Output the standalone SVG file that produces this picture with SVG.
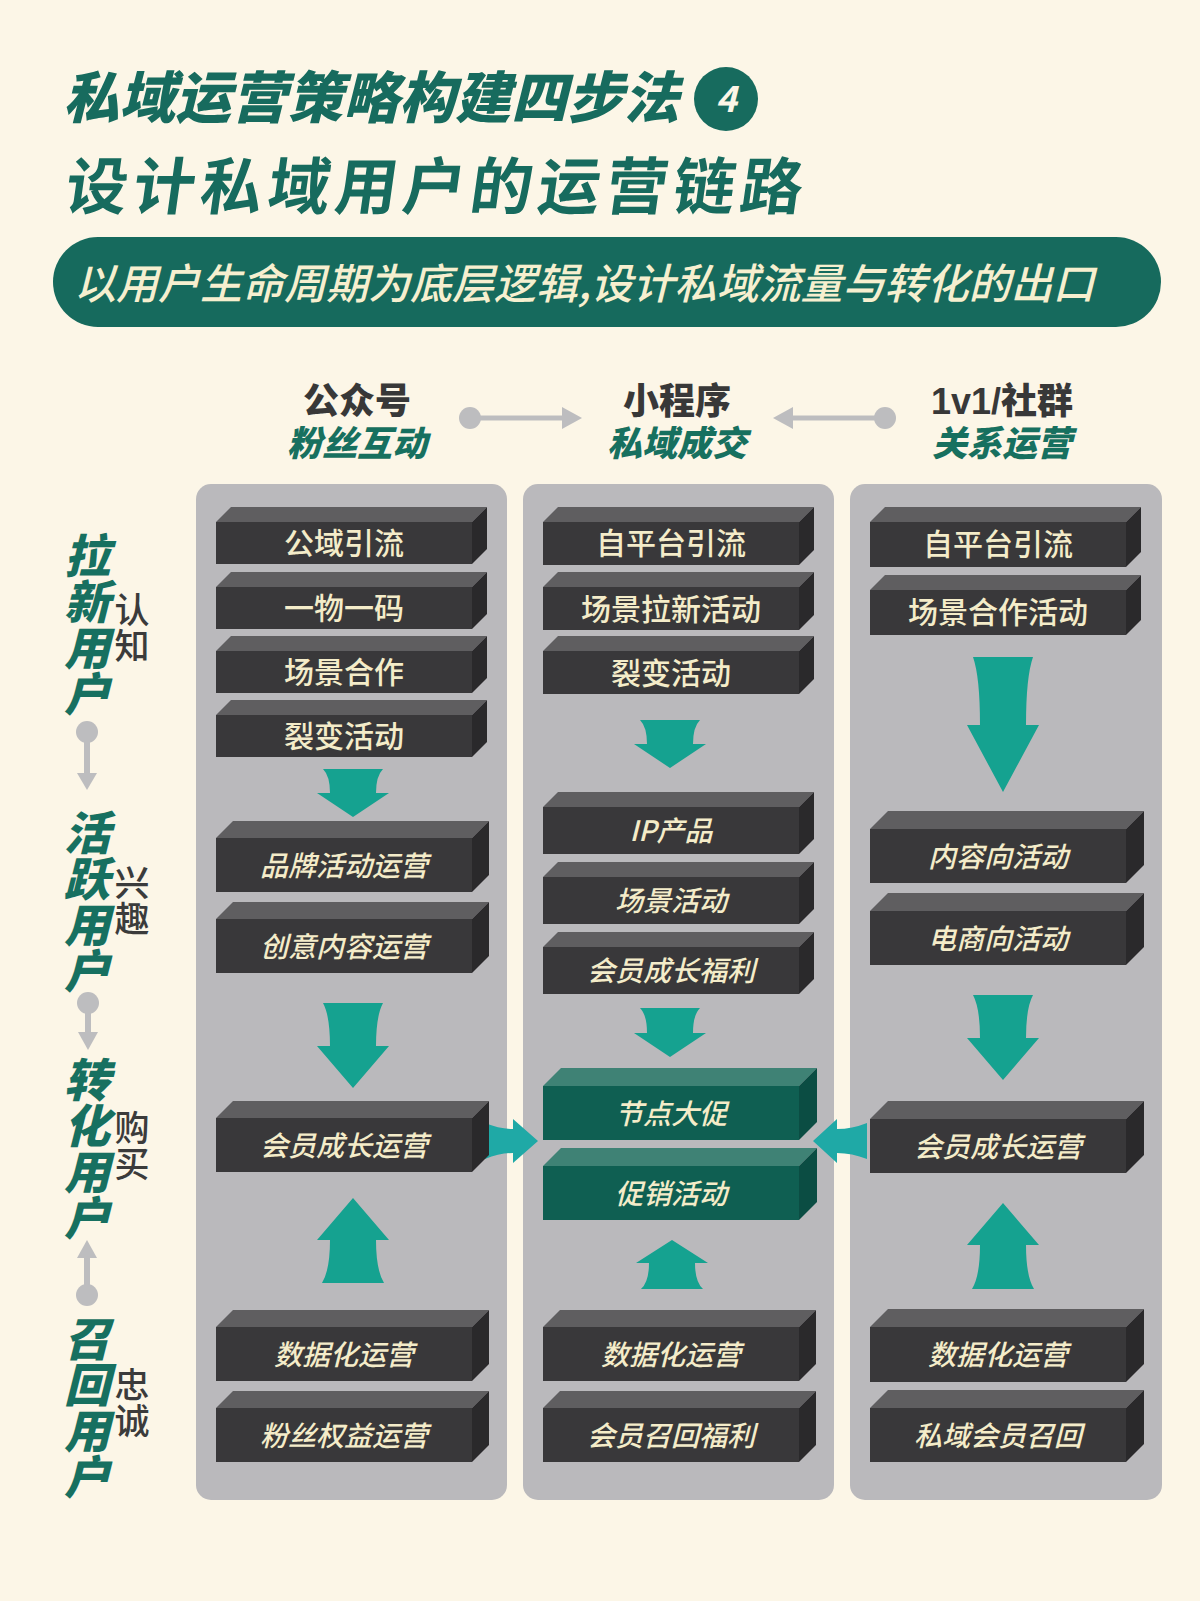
<svg xmlns="http://www.w3.org/2000/svg" width="1200" height="1601" viewBox="0 0 1200 1601">
<style>
text{font-family:"Noto Sans CJK SC","Noto Sans",sans-serif}
.bg{fill:#fcf6e7}
.panel{fill:#bab9bc}
.f{fill:#39383a}.t{fill:#5f5e60}.s{fill:#2a292b}
.gf{fill:#0f5f52}.gt{fill:#3f8275}.gs{fill:#0b4d43}
.bx{fill:#f4ecc9;font-size:30px;font-weight:500;text-anchor:middle}
.bxi{fill:#f4ecc9;font-size:28px;font-weight:500;text-anchor:middle;font-style:italic}
.hd{font-family:"Liberation Sans","Noto Sans CJK SC",sans-serif;fill:#383838;font-size:36px;font-weight:900;text-anchor:middle}
.hs{font-family:"Liberation Sans","Noto Sans CJK SC",sans-serif;fill:#17705f;font-size:35px;font-weight:900;text-anchor:middle;font-style:italic}
.vl{fill:#177060;font-size:46px;font-weight:900;font-style:italic;writing-mode:vertical-rl}
.vs{fill:#3b3b3b;font-size:35px;font-weight:500;writing-mode:vertical-rl;letter-spacing:1px}
.ar{fill:#15a290}
.arh{fill:#1fa9a6}
.gc{fill:#bdbdbf}
.gl{stroke:#bdbdbf;fill:none}
</style>
<rect class="bg" x="0" y="0" width="1200" height="1601"/>

<g id="title">
<text x="63" y="118" font-size="56" font-weight="900" font-style="italic" fill="#176b5e">私域运营策略构建四步法</text>
<circle cx="726" cy="99" r="32" fill="#176b5e"/>
<text x="726" y="112" font-size="36" font-weight="700" fill="#fcf6e7" text-anchor="middle" font-style="italic">4</text>
<text x="63" y="209" font-size="62" font-weight="700" fill="#176b5e" letter-spacing="5.5" transform="translate(29.4,0) skewX(-8)">设计私域用户的运营链路</text>
</g>

<g id="banner">
<rect x="53" y="237" width="1108" height="90" rx="45" fill="#166a5d"/>
<text x="74" y="299" font-size="42" font-weight="500" font-style="italic" fill="#f6efcf">以用户生命周期为底层逻辑,设计私域流量与转化的出口</text>
</g>

<g id="headers">
<text class="hd" x="357" y="414">公众号</text>
<text class="hs" x="357" y="456">粉丝互动</text>
<text class="hd" x="677" y="414">小程序</text>
<text class="hs" x="677" y="456">私域成交</text>
<text class="hd" x="1002" y="414">1v1/社群</text>
<text class="hs" x="1002" y="456">关系运营</text>
</g>

<g id="panels">
<rect class="panel" x="196" y="484" width="311" height="1016" rx="15"/>
<rect class="panel" x="523" y="484" width="311" height="1016" rx="15"/>
<rect class="panel" x="850" y="484" width="312" height="1016" rx="15"/>
</g>

<g id="stages">
<text class="vl" x="87" y="533">拉新用户</text>
<text class="vs" x="132" y="592">认知</text>
<text class="vl" x="87" y="810">活跃用户</text>
<text class="vs" x="132" y="865">兴趣</text>
<text class="vl" x="87" y="1057">转化用户</text>
<text class="vs" x="132" y="1110">购买</text>
<text class="vl" x="87" y="1316">召回用户</text>
<text class="vs" x="132" y="1367">忠诚</text>
</g>

<g id="connectors">
<circle class="gc" cx="470" cy="418" r="11"/>
<line class="gl" x1="470" y1="418" x2="564" y2="418" stroke-width="5"/>
<polygon class="gc" points="562,407 582,418 562,429"/>
<circle class="gc" cx="885" cy="418" r="11"/>
<line class="gl" x1="885" y1="418" x2="791" y2="418" stroke-width="5"/>
<polygon class="gc" points="793,407 773,418 793,429"/>

<circle class="gc" cx="87" cy="732" r="11"/>
<line class="gl" x1="87" y1="732" x2="87" y2="775" stroke-width="6"/>
<polygon class="gc" points="77,773 97,773 87,790"/>
<circle class="gc" cx="88" cy="1003" r="11"/>
<line class="gl" x1="88" y1="1003" x2="88" y2="1034" stroke-width="6"/>
<polygon class="gc" points="78,1032 98,1032 88,1050"/>
<polygon class="gc" points="77,1258 97,1258 87,1240"/>
<line class="gl" x1="87" y1="1256" x2="87" y2="1295" stroke-width="6"/>
<circle class="gc" cx="87" cy="1295" r="11"/>

<path class="ar" d="M323,769 L383,769 Q376,776 376,793 L389,793 L353,817 L317,793 L330,793 Q330,776 323,769 Z"/>
<path class="ar" d="M323,1003 L383,1003 Q376,1016 376,1046 L389,1046 L353,1088 L317,1046 L330,1046 Q330,1016 323,1003 Z"/>
<path class="ar" d="M353,1198 L389,1240 L376,1240 Q376,1270 384,1283 L322,1283 Q330,1270 330,1240 L317,1240 Z"/>
<path class="ar" d="M640,720 L700,720 Q693,727 693,744 L706,744 L670,768 L634,744 L647,744 Q647,727 640,720 Z"/>
<path class="ar" d="M640,1008 L700,1008 Q693,1015 693,1033 L706,1033 L670,1057 L634,1033 L647,1033 Q647,1015 640,1008 Z"/>
<path class="ar" d="M672,1240 L708,1263 L695,1263 Q695,1282 703,1289 L641,1289 Q649,1282 649,1263 L636,1263 Z"/>
<path class="ar" d="M973,657 L1033,657 Q1026,677 1026,725 L1039,725 L1003,792 L967,725 L980,725 Q980,677 973,657 Z"/>
<path class="ar" d="M973,995 L1033,995 Q1026,1008 1026,1038 L1039,1038 L1003,1080 L967,1038 L980,1038 Q980,1008 973,995 Z"/>
<path class="ar" d="M1003,1203 L1039,1245 L1026,1245 Q1026,1276 1034,1289 L972,1289 Q980,1276 980,1245 L967,1245 Z"/>
<path class="arh" d="M485,1123 Q500,1129 513,1129 L513,1119 L538,1141 L513,1163 L513,1153 Q500,1153 485,1159 Z"/>
<path class="arh" d="M867,1123 Q852,1129 837,1129 L837,1119 L813,1141 L837,1163 L837,1153 Q852,1153 867,1159 Z"/>
</g>

<g id="col1-gongyu"><rect class="f" x="216" y="522" width="256" height="42"/><polygon class="t" points="216,522 231,507 487,507 472,522"/><polygon class="s" points="472,522 487,507 487,549 472,564"/><text class="bx" x="344" y="554">公域引流</text></g>
<g id="col1-yiwu"><rect class="f" x="216" y="587" width="256" height="42"/><polygon class="t" points="216,587 231,572 487,572 472,587"/><polygon class="s" points="472,587 487,572 487,614 472,629"/><text class="bx" x="344" y="619">一物一码</text></g>
<g id="col1-changjing"><rect class="f" x="216" y="651" width="256" height="42"/><polygon class="t" points="216,651 231,636 487,636 472,651"/><polygon class="s" points="472,651 487,636 487,678 472,693"/><text class="bx" x="344" y="683">场景合作</text></g>
<g id="col1-liebian"><rect class="f" x="216" y="715" width="256" height="42"/><polygon class="t" points="216,715 231,700 487,700 472,715"/><polygon class="s" points="472,715 487,700 487,742 472,757"/><text class="bx" x="344" y="747">裂变活动</text></g>
<g id="col1-pinpai"><rect class="f" x="216" y="838" width="256" height="54"/><polygon class="t" points="216,838 233,821 489,821 472,838"/><polygon class="s" points="472,838 489,821 489,875 472,892"/><text class="bxi" x="344" y="876">品牌活动运营</text></g>
<g id="col1-chuangyi"><rect class="f" x="216" y="919" width="256" height="54"/><polygon class="t" points="216,919 233,902 489,902 472,919"/><polygon class="s" points="472,919 489,902 489,956 472,973"/><text class="bxi" x="344" y="957">创意内容运营</text></g>
<g id="col1-huiyuan"><rect class="f" x="216" y="1118" width="256" height="54"/><polygon class="t" points="216,1118 233,1101 489,1101 472,1118"/><polygon class="s" points="472,1118 489,1101 489,1155 472,1172"/><text class="bxi" x="344" y="1156">会员成长运营</text></g>
<g id="col1-shuju"><rect class="f" x="216" y="1327" width="256" height="54"/><polygon class="t" points="216,1327 233,1310 489,1310 472,1327"/><polygon class="s" points="472,1327 489,1310 489,1364 472,1381"/><text class="bxi" x="344" y="1365">数据化运营</text></g>
<g id="col1-fensi"><rect class="f" x="216" y="1408" width="256" height="54"/><polygon class="t" points="216,1408 233,1391 489,1391 472,1408"/><polygon class="s" points="472,1408 489,1391 489,1445 472,1462"/><text class="bxi" x="344" y="1446">粉丝权益运营</text></g>

<g id="col2-zipingtai"><rect class="f" x="543" y="522" width="256" height="43"/><polygon class="t" points="543,522 558,507 814,507 799,522"/><polygon class="s" points="799,522 814,507 814,550 799,565"/><text class="bx" x="671" y="554">自平台引流</text></g>
<g id="col2-laxin"><rect class="f" x="543" y="587" width="256" height="43"/><polygon class="t" points="543,587 558,572 814,572 799,587"/><polygon class="s" points="799,587 814,572 814,615 799,630"/><text class="bx" x="671" y="620">场景拉新活动</text></g>
<g id="col2-liebian"><rect class="f" x="543" y="651" width="256" height="43"/><polygon class="t" points="543,651 558,636 814,636 799,651"/><polygon class="s" points="799,651 814,636 814,679 799,694"/><text class="bx" x="671" y="684">裂变活动</text></g>
<g id="col2-ip"><rect class="f" x="543" y="807" width="256" height="47"/><polygon class="t" points="543,807 558,792 814,792 799,807"/><polygon class="s" points="799,807 814,792 814,839 799,854"/><text class="bxi" x="671" y="841">IP产品</text></g>
<g id="col2-changjing"><rect class="f" x="543" y="877" width="256" height="47"/><polygon class="t" points="543,877 558,862 814,862 799,877"/><polygon class="s" points="799,877 814,862 814,909 799,924"/><text class="bxi" x="671" y="911">场景活动</text></g>
<g id="col2-fuli"><rect class="f" x="543" y="947" width="256" height="47"/><polygon class="t" points="543,947 558,932 814,932 799,947"/><polygon class="s" points="799,947 814,932 814,979 799,994"/><text class="bxi" x="671" y="981">会员成长福利</text></g>
<g id="col2-dacu"><rect class="gf" x="543" y="1086" width="256" height="54"/><polygon class="gt" points="543,1086 561,1068 817,1068 799,1086"/><polygon class="gs" points="799,1086 817,1068 817,1122 799,1140"/><text class="bxi" x="671" y="1124">节点大促</text></g>
<g id="col2-cuxiao"><rect class="gf" x="543" y="1166" width="256" height="54"/><polygon class="gt" points="543,1166 561,1148 817,1148 799,1166"/><polygon class="gs" points="799,1166 817,1148 817,1202 799,1220"/><text class="bxi" x="671" y="1204">促销活动</text></g>
<g id="col2-shuju"><rect class="f" x="543" y="1327" width="256" height="54"/><polygon class="t" points="543,1327 560,1310 816,1310 799,1327"/><polygon class="s" points="799,1327 816,1310 816,1364 799,1381"/><text class="bxi" x="671" y="1365">数据化运营</text></g>
<g id="col2-zhaohui"><rect class="f" x="543" y="1408" width="256" height="54"/><polygon class="t" points="543,1408 560,1391 816,1391 799,1408"/><polygon class="s" points="799,1408 816,1391 816,1445 799,1462"/><text class="bxi" x="671" y="1446">会员召回福利</text></g>

<g id="col3-zipingtai"><rect class="f" x="870" y="522" width="256" height="45"/><polygon class="t" points="870,522 885,507 1141,507 1126,522"/><polygon class="s" points="1126,522 1141,507 1141,552 1126,567"/><text class="bx" x="998" y="555">自平台引流</text></g>
<g id="col3-hezuo"><rect class="f" x="870" y="590" width="256" height="45"/><polygon class="t" points="870,590 885,575 1141,575 1126,590"/><polygon class="s" points="1126,590 1141,575 1141,620 1126,635"/><text class="bx" x="998" y="623">场景合作活动</text></g>
<g id="col3-neirong"><rect class="f" x="870" y="829" width="256" height="54"/><polygon class="t" points="870,829 888,811 1144,811 1126,829"/><polygon class="s" points="1126,829 1144,811 1144,865 1126,883"/><text class="bxi" x="998" y="867">内容向活动</text></g>
<g id="col3-dianshang"><rect class="f" x="870" y="911" width="256" height="54"/><polygon class="t" points="870,911 888,893 1144,893 1126,911"/><polygon class="s" points="1126,911 1144,893 1144,947 1126,965"/><text class="bxi" x="998" y="949">电商向活动</text></g>
<g id="col3-huiyuan"><rect class="f" x="870" y="1119" width="256" height="54"/><polygon class="t" points="870,1119 888,1101 1144,1101 1126,1119"/><polygon class="s" points="1126,1119 1144,1101 1144,1155 1126,1173"/><text class="bxi" x="998" y="1157">会员成长运营</text></g>
<g id="col3-shuju"><rect class="f" x="870" y="1327" width="256" height="55"/><polygon class="t" points="870,1327 888,1309 1144,1309 1126,1327"/><polygon class="s" points="1126,1327 1144,1309 1144,1364 1126,1382"/><text class="bxi" x="998" y="1365">数据化运营</text></g>
<g id="col3-zhaohui"><rect class="f" x="870" y="1408" width="256" height="54"/><polygon class="t" points="870,1408 888,1390 1144,1390 1126,1408"/><polygon class="s" points="1126,1408 1144,1390 1144,1444 1126,1462"/><text class="bxi" x="998" y="1446">私域会员召回</text></g>
</svg>
